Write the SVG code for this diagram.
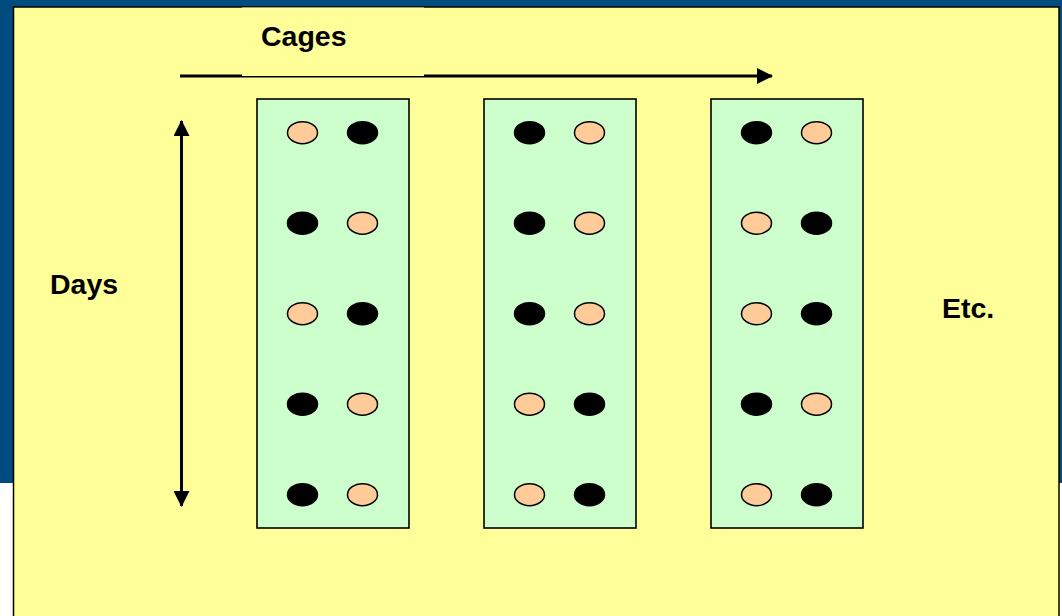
<svg xmlns="http://www.w3.org/2000/svg" width="1062" height="616" viewBox="0 0 1062 616">
  <style>
    .lbl { font-family: "Liberation Sans", Arial, sans-serif; font-weight: bold; font-size: 28.5px; fill: #000; }
    .cage { fill: #CCFFCC; stroke: #000; stroke-width: 1.6; }
    .p { fill: #FFCC99; stroke: #000; stroke-width: 1.5; }
    .b { fill: #000; stroke: #000; stroke-width: 1.5; }
    .ax { stroke: #000; stroke-width: 3; fill: none; }
  </style>
  <defs>
    <marker id="head" viewBox="0 0 16 16" refX="15" refY="8" markerWidth="16" markerHeight="16" markerUnits="userSpaceOnUse" orient="auto-start-reverse">
      <path d="M0,0 L16,8 L0,16 Z" fill="#000"/>
    </marker>
    <ellipse id="pe" class="p" rx="15" ry="11"/>
    <ellipse id="bk" class="b" rx="15" ry="11"/>
  </defs>

  <!-- slide background -->
  <rect x="0" y="0" width="1062" height="483" fill="#004C7F"/>
  <rect x="0" y="483" width="1062" height="133" fill="#FFFFFF"/>
  <rect x="13.5" y="7" width="1045.5" height="620" fill="#FFFF99" stroke="#000" stroke-width="1.5"/>

  <!-- connectors: axis arrows -->
  <g id="connectors">
    <line class="ax" x1="180" y1="76" x2="772" y2="76" marker-end="url(#head)"/>
    <line class="ax" x1="181.5" y1="121" x2="181.5" y2="506" marker-start="url(#head)" marker-end="url(#head)"/>
  </g>

  <!-- title box for the horizontal axis -->
  <g id="label-cages">
    <rect x="242" y="7.5" width="182" height="68.5" fill="#FFFF99"/>
    <text class="lbl" x="261" y="46">Cages</text>
  </g>

  <g id="label-days">
    <text class="lbl" x="50" y="294">Days</text>
  </g>

  <g id="label-etc">
    <text class="lbl" x="942" y="318">Etc.</text>
  </g>

  <!-- cage 1 -->
  <g id="cage1">
    <rect class="cage" x="257" y="99" width="152" height="429"/>
    <use href="#pe" x="302.5" y="132.7"/><use href="#bk" x="362.5" y="132.7"/>
    <use href="#bk" x="302.5" y="223.2"/><use href="#pe" x="362.5" y="223.2"/>
    <use href="#pe" x="302.5" y="313.7"/><use href="#bk" x="362.5" y="313.7"/>
    <use href="#bk" x="302.5" y="404.2"/><use href="#pe" x="362.5" y="404.2"/>
    <use href="#bk" x="302.5" y="494.7"/><use href="#pe" x="362.5" y="494.7"/>
  </g>

  <!-- cage 2 -->
  <g id="cage2">
    <rect class="cage" x="484" y="99" width="152" height="429"/>
    <use href="#bk" x="529.5" y="132.7"/><use href="#pe" x="589.5" y="132.7"/>
    <use href="#bk" x="529.5" y="223.2"/><use href="#pe" x="589.5" y="223.2"/>
    <use href="#bk" x="529.5" y="313.7"/><use href="#pe" x="589.5" y="313.7"/>
    <use href="#pe" x="529.5" y="404.2"/><use href="#bk" x="589.5" y="404.2"/>
    <use href="#pe" x="529.5" y="494.7"/><use href="#bk" x="589.5" y="494.7"/>
  </g>

  <!-- cage 3 -->
  <g id="cage3">
    <rect class="cage" x="711" y="99" width="152" height="429"/>
    <use href="#bk" x="756.5" y="132.7"/><use href="#pe" x="816.5" y="132.7"/>
    <use href="#pe" x="756.5" y="223.2"/><use href="#bk" x="816.5" y="223.2"/>
    <use href="#pe" x="756.5" y="313.7"/><use href="#bk" x="816.5" y="313.7"/>
    <use href="#bk" x="756.5" y="404.2"/><use href="#pe" x="816.5" y="404.2"/>
    <use href="#pe" x="756.5" y="494.7"/><use href="#bk" x="816.5" y="494.7"/>
  </g>
</svg>
